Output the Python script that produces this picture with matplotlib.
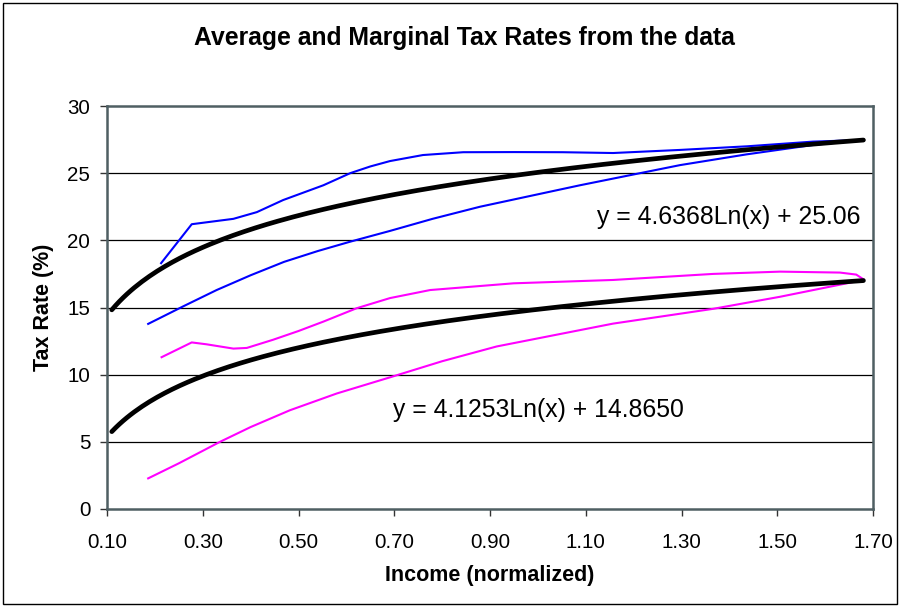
import numpy as np
import matplotlib
matplotlib.use("Agg")
import matplotlib.pyplot as plt
from matplotlib.patches import Rectangle

plt.rcParams['font.family'] = ['Liberation Sans', 'DejaVu Sans']

# ---- data ----
blue_upper_x = [0.213, 0.277, 0.364, 0.413, 0.468, 0.552, 0.608, 0.650, 0.691, 0.760, 0.844, 0.950, 1.052, 1.157, 1.297, 1.437, 1.575, 1.679]
blue_upper_y = [18.3, 21.2, 21.6, 22.1, 23.0, 24.1, 25.0, 25.5, 25.9, 26.35, 26.56, 26.57, 26.56, 26.5, 26.73, 27.0, 27.35, 27.47]

blue_lower_x = [0.186, 0.26, 0.329, 0.40, 0.47, 0.54, 0.608, 0.691, 0.78, 0.879, 1.088, 1.297, 1.436, 1.575, 1.679]
blue_lower_y = [13.78, 15.1, 16.3, 17.4, 18.4, 19.2, 19.9, 20.7, 21.6, 22.5, 24.1, 25.6, 26.4, 27.1, 27.47]

mag_upper_x = [0.214, 0.277, 0.308, 0.364, 0.392, 0.447, 0.50, 0.552, 0.621, 0.691, 0.775, 0.949, 1.157, 1.366, 1.506, 1.631, 1.665, 1.680]
mag_upper_y = [11.3, 12.4, 12.26, 11.94, 11.99, 12.6, 13.25, 13.95, 14.94, 15.7, 16.3, 16.8, 17.05, 17.5, 17.67, 17.6, 17.45, 17.1]

mag_lower_x = [0.186, 0.25, 0.336, 0.40, 0.482, 0.58, 0.691, 0.80, 0.914, 1.157, 1.366, 1.506, 1.645, 1.680]
mag_lower_y = [2.28, 3.4, 5.0, 6.1, 7.35, 8.6, 9.8, 11.0, 12.1, 13.8, 14.9, 15.8, 16.8, 17.05]

# logarithmic trendline coefficients (as printed on the chart)
trend_upper = (4.6368, 25.06)
trend_lower = (4.1253, 14.8650)
trend_range = (0.11, 1.68)

x_ticks = [0.10, 0.30, 0.50, 0.70, 0.90, 1.10, 1.30, 1.50, 1.70]
y_ticks = [0, 5, 10, 15, 20, 25, 30]

# ---- figure ----
fig = plt.figure(figsize=(9.05, 6.11), dpi=100)
fig.patches.append(Rectangle((3/905, 1 - 604/611), 894/905, 601/611, transform=fig.transFigure,
                             fill=False, edgecolor='black', linewidth=1.0))
ax = fig.add_axes([107/905, 1 - 509/611, 766/905, 403/611])

for yv in y_ticks[1:-1]:
    ax.axhline(yv, color='black', linewidth=0.9, zorder=1)

ax.plot(blue_upper_x, blue_upper_y, color='#0000FF', linewidth=1.5, zorder=2)
ax.plot(blue_lower_x, blue_lower_y, color='#0000FF', linewidth=1.5, zorder=2)
ax.plot(mag_upper_x, mag_upper_y, color='#FF00FF', linewidth=1.5, zorder=2)
ax.plot(mag_lower_x, mag_lower_y, color='#FF00FF', linewidth=1.5, zorder=2)

xt = np.linspace(trend_range[0], trend_range[1], 200)
for a, b in (trend_upper, trend_lower):
    ax.plot(xt, a * np.log(xt) + b, color='black', linewidth=3.4, zorder=3,
            solid_capstyle='round')

ax.text(1.673, 21.77, f"y = {trend_upper[0]:.4f}Ln(x) + {trend_upper[1]:.2f}",
        ha='right', va='center', fontsize=17.8)
ax.text(0.697, 7.37, f"y = {trend_lower[0]:.4f}Ln(x) + {trend_lower[1]:.4f}",
        ha='left', va='center', fontsize=17.8)

ax.set_xlim(0.10, 1.70)
ax.set_ylim(0, 30)
ax.set_xticks(x_ticks)
ax.set_xticklabels([f"{v:.2f}" for v in x_ticks])
ax.set_yticks(y_ticks)
ax.set_yticklabels([str(v) for v in y_ticks])
ax.tick_params(axis='both', direction='out', length=5, width=1, color='#333333',
               labelsize=14.8)
ax.tick_params(axis='x', pad=12)
ax.tick_params(axis='y', pad=7)
for s in ax.spines.values():
    s.set_color('#4f5f63')
    s.set_linewidth(1.8)

ax.set_xlabel("Income (normalized)", fontsize=15.5, fontweight='bold', labelpad=10)
ax.set_ylabel("Tax Rate (%)", fontsize=15.5, fontweight='bold', labelpad=10)
fig.text(464/905, 1 - 38/611, "Average and Marginal Tax Rates from the data",
         ha='center', va='center', fontsize=17.8, fontweight='bold')

fig.savefig("out.png", dpi=100)
